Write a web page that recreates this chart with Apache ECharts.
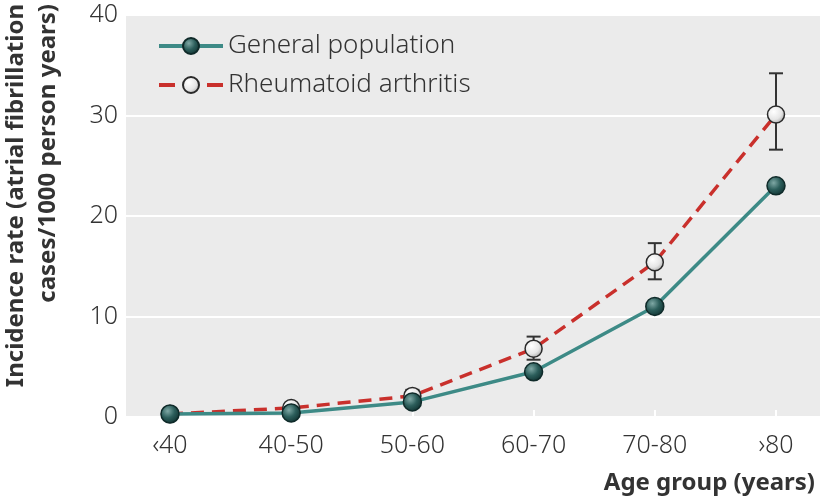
<!DOCTYPE html>
<html>
<head>
<meta charset="utf-8">
<script src="https://cdn.jsdelivr.net/npm/echarts@6/dist/echarts.min.js"></script>
<style>html,body{margin:0;padding:0;background:#fff;}#c{width:820px;height:504px;}</style>
</head>
<body>
<div id="c"></div>
<script>
const categories = ['\u203940', '40-50', '50-60', '60-70', '70-80', '\u203a80'];
const generalPopulation = [0.3, 0.4, 1.5, 4.5, 11.0, 23.0];
const rheumatoidArthritis = [0.3, 0.9, 2.1, 6.8, 15.4, 30.1];
const raLower = [0.1, 0.5, 1.6, 5.7, 13.7, 26.6];
const raUpper = [0.6, 1.3, 2.7, 8.0, 17.3, 34.2];
const yTicks = [0, 10, 20, 30, 40];

const FONT = '"Noto Sans", "Open Sans", sans-serif';
const idx = categories.map((_, i) => i);

const chart = echarts.init(document.getElementById('c'), null, {renderer: 'canvas'});

const greenMarker = {
  type: 'radial', x: 0.38, y: 0.35, r: 0.7,
  colorStops: [{offset: 0, color: '#7fa8a5'}, {offset: 0.5, color: '#2c5e5b'}, {offset: 1, color: '#0f302f'}]
};
const whiteMarker = {
  type: 'radial', x: 0.38, y: 0.35, r: 0.7,
  colorStops: [{offset: 0, color: '#ffffff'}, {offset: 0.6, color: '#e6e6e6'}, {offset: 1, color: '#a8a8a8'}]
};

chart.setOption({
  animation: false,
  textStyle: {fontFamily: FONT},
  grid: {left: 126, right: 0, top: 15, bottom: 87, show: true, backgroundColor: '#ebebeb', borderWidth: 0},
  legend: {
    orient: 'vertical', left: 152, top: 28, itemWidth: 64, itemHeight: 20, itemGap: 13,
    textStyle: {fontSize: 26, color: '#333', fontFamily: FONT, fontWeight: 300},
    data: [
      {name: 'General population', lineStyle: {width: 4}},
      {name: 'Rheumatoid arthritis', lineStyle: {width: 4, type: [16, 32]}}
    ]
  },
  xAxis: {
    type: 'value', min: -0.363, max: 5.363,
    axisLine: {show: false},
    splitLine: {show: false},
    axisTick: {show: true, inside: true, length: 7, customValues: idx, lineStyle: {color: '#ffffff', width: 2}},
    axisLabel: {customValues: idx, formatter: v => categories[Math.round(v)], fontSize: 25, fontWeight: 300, color: '#333', margin: 16, fontFamily: FONT}
  },
  yAxis: {
    type: 'value', min: 0, max: 40, interval: 10,
    axisLine: {show: false},
    axisTick: {show: false},
    splitLine: {show: true, lineStyle: {color: '#ffffff', width: 2}},
    axisLabel: {fontSize: 25, fontWeight: 300, color: '#333', margin: 8, fontFamily: FONT, formatter: v => String(v)}
  },
  graphic: [
    {
      type: 'text', x: 0, y: 4, rotation: Math.PI / 2,
      style: {
        text: 'Incidence rate (atrial fibrillation\ncases/1000 person years)',
        font: 'bold 24px ' + FONT, fill: '#333', textAlign: 'right', textVerticalAlign: 'top', lineHeight: 32
      }
    },
    {
      type: 'text', right: 5, top: 471,
      style: {text: 'Age group (years)', font: 'bold 24px ' + FONT, fill: '#333'}
    }
  ],
  series: [
    {
      name: 'RA error', type: 'custom', z: 2,
      data: idx.map(i => [i, raLower[i], raUpper[i]]),
      renderItem: function (params, api) {
        const x = api.value(0);
        const lo = api.coord([x, api.value(1)]);
        const hi = api.coord([x, api.value(2)]);
        const hw = 7;
        const st = {stroke: '#333', lineWidth: 2};
        return {
          type: 'group', children: [
            {type: 'line', shape: {x1: lo[0], y1: lo[1], x2: hi[0], y2: hi[1]}, style: st},
            {type: 'line', shape: {x1: lo[0] - hw, y1: lo[1], x2: lo[0] + hw, y2: lo[1]}, style: st},
            {type: 'line', shape: {x1: hi[0] - hw, y1: hi[1], x2: hi[0] + hw, y2: hi[1]}, style: st}
          ]
        };
      }
    },
    {
      name: 'Rheumatoid arthritis', type: 'line', z: 3,
      data: idx.map(i => [i, rheumatoidArthritis[i]]),
      symbol: 'circle', symbolSize: 17,
      lineStyle: {color: '#c9302c', width: 3.5, type: [13, 8]},
      itemStyle: {color: whiteMarker, borderColor: '#2a2a2a', borderWidth: 1.5}
    },
    {
      name: 'General population', type: 'line', z: 4,
      data: idx.map(i => [i, generalPopulation[i]]),
      symbol: 'circle', symbolSize: 18,
      lineStyle: {color: '#3d8a86', width: 3.5},
      itemStyle: {color: greenMarker, borderColor: '#0f2a29', borderWidth: 1.5}
    }
  ]
});
</script>
</body>
</html>
